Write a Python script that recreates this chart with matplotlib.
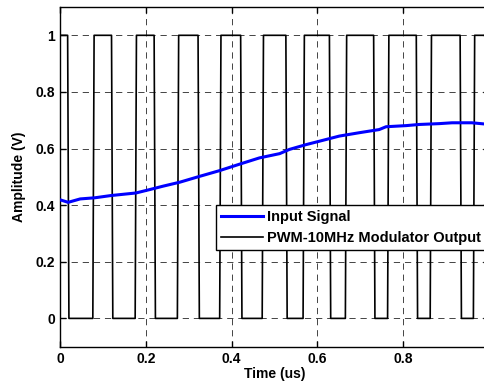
import numpy as np
import matplotlib
matplotlib.use("Agg")
import matplotlib.pyplot as plt

plt.rcParams['font.family'] = ['Liberation Sans', 'DejaVu Sans']
plt.rcParams['font.weight'] = 'bold'
plt.rcParams['lines.scale_dashes'] = False

# input signal samples (time in us, amplitude in V)
t_in = [0.0, 0.019, 0.047, 0.081, 0.119, 0.177, 0.209, 0.240, 0.279, 0.326,
        0.372, 0.419, 0.465, 0.512, 0.535, 0.574, 0.605, 0.651, 0.698, 0.744,
        0.760, 0.807, 0.837, 0.884, 0.914, 0.960, 0.988, 1.0]
v_in = [0.419, 0.410, 0.422, 0.426, 0.434, 0.443, 0.455, 0.467, 0.481, 0.502,
        0.522, 0.545, 0.567, 0.582, 0.597, 0.614, 0.626, 0.644, 0.656, 0.667,
        0.677, 0.681, 0.685, 0.688, 0.691, 0.691, 0.687, 0.688]

# PWM switching instants (us): pairs of (rise, fall)
pwm_rise = [0.0, 0.0780, 0.1767, 0.2751, 0.3737, 0.4728, 0.5681, 0.6667,
            0.7651, 0.8644, 0.9651]
pwm_fall = [0.0193, 0.1216, 0.2209, 0.3233, 0.4226, 0.5280, 0.6295, 0.7326,
            0.8320, 0.9342, 1.0]

# build the square wave with short finite edges
edge = 0.0015
t_pwm, v_pwm = [], []
for r, f in zip(pwm_rise, pwm_fall):
    if r == 0.0:
        t_pwm += [0.0]
        v_pwm += [1]
    else:
        t_pwm += [r - edge, r + edge]
        v_pwm += [0, 1]
    if f < 1.0:
        t_pwm += [f - edge, f + edge]
        v_pwm += [1, 0]
    else:
        t_pwm += [f]
        v_pwm += [1]

fig = plt.figure(figsize=(4.85, 3.85), dpi=100)
ax = fig.add_axes([60 / 485, 38.3 / 385, 429 / 485, 339.7 / 385])

ax.plot(t_in, v_in, color='#0000ff', lw=2.2, label='Input Signal', zorder=3)
ax.plot(t_pwm, v_pwm, color='k', lw=1.2, label='PWM-10MHz Modulator Output', zorder=2)

ax.set_xlim(0, 1)
ax.set_ylim(-0.1, 1.1)
ax.set_xticks([0, 0.2, 0.4, 0.6, 0.8])
ax.set_xticklabels(['0', '0.2', '0.4', '0.6', '0.8'])
ax.set_yticks([0, 0.2, 0.4, 0.6, 0.8, 1.0])
ax.set_yticklabels(['0', '0.2', '0.4', '0.6', '0.8', '1'])
ax.tick_params(direction='in', length=4, width=1, labelsize=10, top=True, right=True)
for lab in ax.get_xticklabels() + ax.get_yticklabels():
    lab.set_fontweight('bold')

ax.grid(True, color='k', lw=0.6, linestyle=(0, (4.5, 3.5)), alpha=0.85)
for s in ax.spines.values():
    s.set_linewidth(1.0)

ax.set_xlabel('Time (us)', fontsize=10, fontweight='bold', labelpad=1)
ax.set_ylabel('Amplitude (V)', fontsize=10, fontweight='bold', labelpad=7)

leg = ax.legend(loc='upper left', bbox_to_anchor=(0.363, 0.417), fontsize=10.5,
                frameon=True, fancybox=False, borderaxespad=0, handlelength=2.9,
                handletextpad=0.28, labelspacing=0.45, borderpad=0.35)
leg.get_frame().set_edgecolor('k')
leg.get_frame().set_linewidth(1.0)
leg.get_frame().set_alpha(1)
for txt in leg.get_texts():
    txt.set_fontweight('bold')

fig.savefig('out.png', dpi=100)
